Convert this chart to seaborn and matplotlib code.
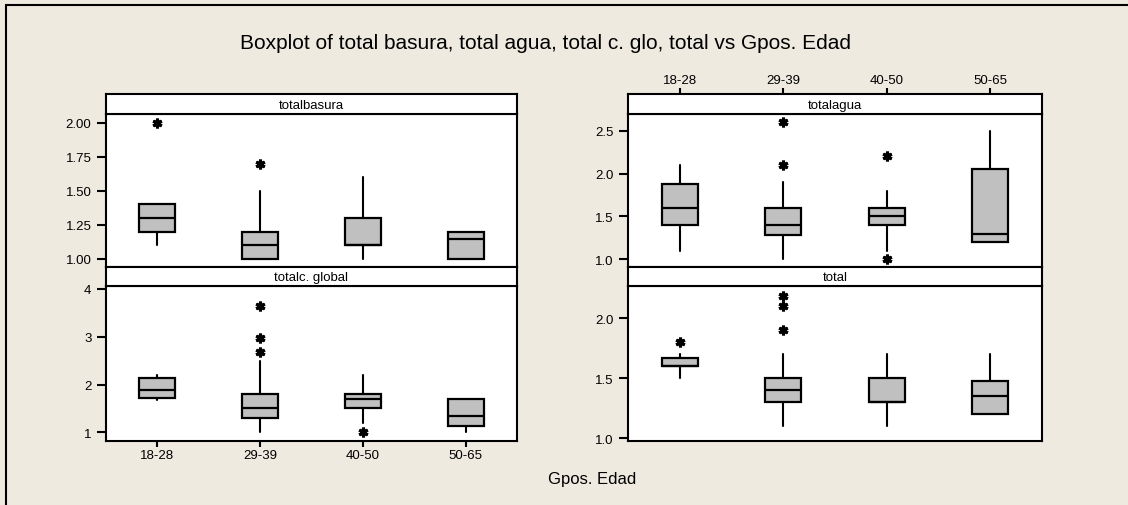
"""
Boxplot of total basura, total agua, total c. glo, total vs Gpos. Edad
Minitab-style 2x2 panel of boxplots, redrawn with matplotlib/seaborn.
"""

import matplotlib
matplotlib.use("Agg")
import matplotlib.pyplot as plt
from matplotlib.lines import Line2D
import seaborn as sns

# ── Style ─────────────────────────────────────────────────────────────────────
sns.set_theme(style="white")
plt.rcParams.update({
    "font.family": ["Liberation Sans", "DejaVu Sans"],
    "axes.linewidth": 1.5,
    "axes.edgecolor": "black",
    "text.color": "black",
    "xtick.color": "black",
    "ytick.color": "black",
    "xtick.labelcolor": "black",
    "ytick.labelcolor": "black",
})
BG = "#EEEAE0"
BOX_GRAY = "#C0C0C0"

# ── Data ──────────────────────────────────────────────────────────────────────
GROUPS = ["18-28", "29-39", "40-50", "50-65"]

# (whisker low, Q1, median, Q3, whisker high) per age group
BASURA_STATS = [(1.1, 1.2, 1.3, 1.4, 1.4), (1.0, 1.0, 1.1, 1.2, 1.5),
                (1.0, 1.1, 1.1, 1.3, 1.6), (1.0, 1.0, 1.15, 1.2, 1.2)]
BASURA_OUT = [[2.0], [1.7], [], []]

AGUA_STATS = [(1.1, 1.4, 1.6, 1.88, 2.1), (1.0, 1.28, 1.4, 1.6, 1.9),
              (1.1, 1.4, 1.5, 1.6, 1.8), (1.2, 1.2, 1.3, 2.05, 2.5)]
AGUA_OUT = [[], [2.1, 2.6], [1.0, 2.2], []]

CGLOBAL_STATS = [(1.68, 1.71, 1.89, 2.14, 2.2), (1.0, 1.3, 1.5, 1.8, 2.5),
                 (1.2, 1.5, 1.7, 1.8, 2.2), (1.0, 1.14, 1.35, 1.7, 1.7)]
CGLOBAL_OUT = [[], [2.67, 2.97, 3.65], [1.0], []]

TOTAL_STATS = [(1.5, 1.6, 1.6, 1.67, 1.7), (1.1, 1.3, 1.4, 1.5, 1.7),
               (1.1, 1.3, 1.3, 1.5, 1.7), (1.2, 1.2, 1.35, 1.48, 1.7)]
TOTAL_OUT = [[1.8], [1.9, 2.1, 2.19], [], []]

BASURA_TICKS = [1.00, 1.25, 1.50, 1.75, 2.00]
AGUA_TICKS = [1.0, 1.5, 2.0, 2.5]
CGLOBAL_TICKS = [1, 2, 3, 4]
TOTAL_TICKS = [1.0, 1.5, 2.0]

# ── Figure / layout helpers ───────────────────────────────────────────────────
W, H = 1128, 506
fig = plt.figure(figsize=(W / 100, H / 100), dpi=100, facecolor=BG)


def px_axes(x0, y0, x1, y1):
    """Axes placed by pixel box (top-left origin)."""
    return fig.add_axes([x0 / W, 1 - y1 / H, (x1 - x0) / W, (y1 - y0) / H])


def panel(x0, x1, y_strip, y_top, y_bot, title, stats, outliers,
          yticks, yfmt, ylim, bottom_ticks=False, top_ticks=False):
    ax = px_axes(x0, y_top, x1, y_bot)
    ax.set_facecolor("white")
    bxp_stats = [
        {"whislo": s[0], "q1": s[1], "med": s[2], "q3": s[3], "whishi": s[4],
         "fliers": o, "label": g}
        for s, o, g in zip(stats, outliers, GROUPS)
    ]
    ax.bxp(
        bxp_stats, positions=range(1, len(GROUPS) + 1), widths=0.35,
        showcaps=False, patch_artist=True,
        boxprops={"facecolor": BOX_GRAY, "edgecolor": "black", "linewidth": 1.6},
        medianprops={"color": "black", "linewidth": 1.6},
        whiskerprops={"color": "black", "linewidth": 1.5},
        flierprops={"marker": (6, 2, 0), "markersize": 7, "markeredgewidth": 2.2,
                    "markerfacecolor": "black", "markeredgecolor": "black"},
    )
    ax.set_xlim(0.5, 4.5)
    ax.set_ylim(*ylim)
    ax.set_yticks(yticks)
    ax.set_yticklabels([yfmt.format(v) for v in yticks], fontsize=9.5)
    ax.tick_params(axis="y", direction="out", length=6.5, width=1.5, pad=4, left=True)
    if bottom_ticks:
        ax.set_xticks(range(1, len(GROUPS) + 1))
        ax.set_xticklabels(GROUPS, fontsize=9.5)
        ax.tick_params(axis="x", direction="out", length=4.5, width=1.5, pad=1, bottom=True)
    else:
        ax.set_xticks([])
    for sp in ax.spines.values():
        sp.set_linewidth(1.5)

    # strip with the variable name
    sax = px_axes(x0, y_strip, x1, y_top)
    sax.set_facecolor("white")
    sax.set_xlim(0.5, 4.5)
    sax.set_yticks([])
    sax.text(0.5, 0.45, title, transform=sax.transAxes, ha="center", va="center",
             fontsize=9.5)
    if top_ticks:
        sax.xaxis.tick_top()
        sax.set_xticks(range(1, len(GROUPS) + 1))
        sax.set_xticklabels(GROUPS, fontsize=9.5)
        sax.tick_params(axis="x", direction="out", length=4.5, width=1.5, pad=1, top=True)
    else:
        sax.set_xticks([])
    for sp in sax.spines.values():
        sp.set_linewidth(1.5)
    return ax


LX0, LX1 = 106, 517
RX0, RX1 = 628, 1042

panel(LX0, LX1, 95, 115, 268, "totalbasura", BASURA_STATS, BASURA_OUT,
      BASURA_TICKS, "{:.2f}", (0.941, 2.064))
panel(RX0, RX1, 95, 115, 268, "totalagua", AGUA_STATS, AGUA_OUT,
      AGUA_TICKS, "{:.1f}", (0.91, 2.695), top_ticks=True)
panel(LX0, LX1, 268, 287, 442, "totalc. global", CGLOBAL_STATS, CGLOBAL_OUT,
      CGLOBAL_TICKS, "{:d}", (0.82, 4.06), bottom_ticks=True)
panel(RX0, RX1, 268, 287, 442, "total", TOTAL_STATS, TOTAL_OUT,
      TOTAL_TICKS, "{:.1f}", (0.975, 2.27))

# ── Titles and outer frame ────────────────────────────────────────────────────
fig.text(546 / W, 1 - 44 / H,
         "Boxplot of total basura, total agua, total c. glo, total vs Gpos. Edad",
         ha="center", va="center", fontsize=15)
fig.text(592 / W, 1 - 480 / H, "Gpos. Edad", ha="center", va="center", fontsize=12)

fig.add_artist(Line2D([5.5 / W, 5.5 / W], [0, 1 - 6 / H], color="black", lw=1.5))
fig.add_artist(Line2D([5.5 / W, 1], [1 - 6 / H, 1 - 6 / H], color="black", lw=1.5))

fig.savefig("out.png", dpi=100, facecolor=BG)
